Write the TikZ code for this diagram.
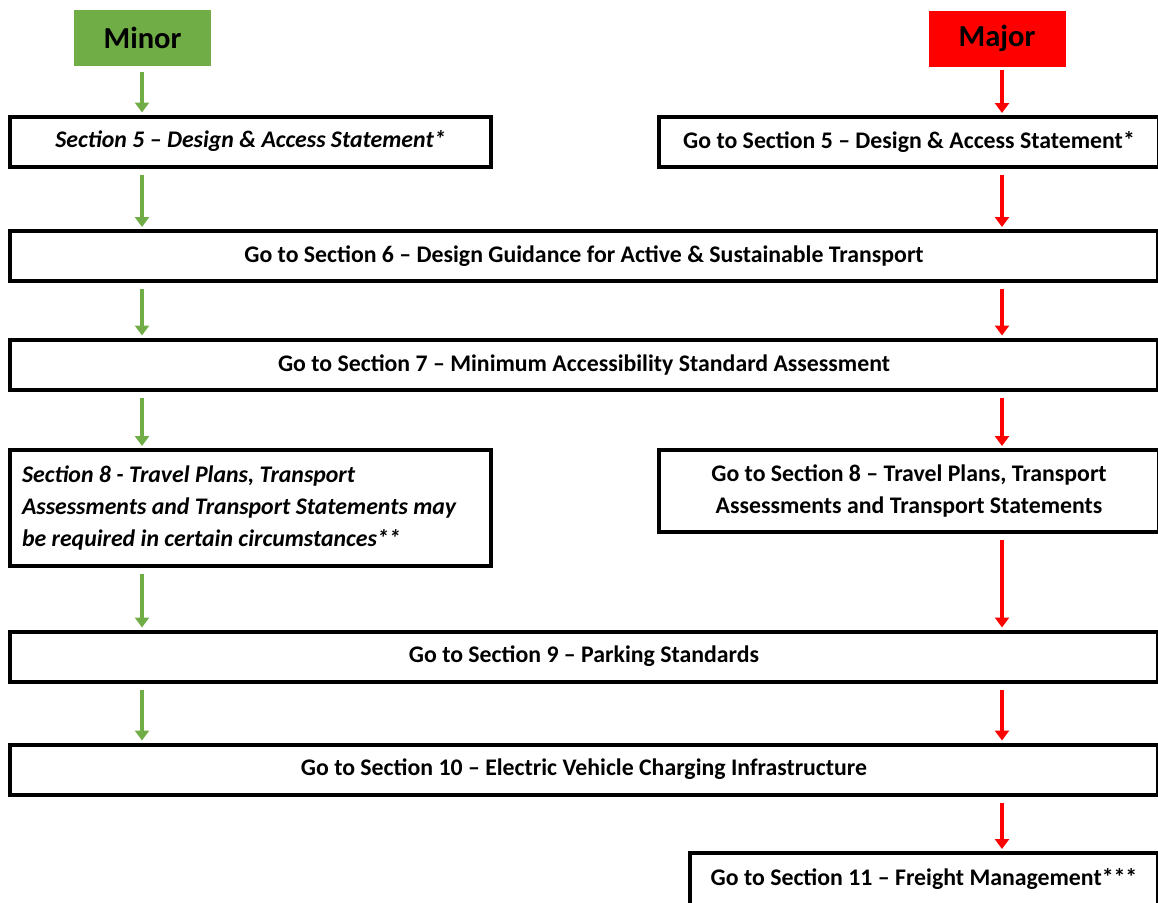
\documentclass[tikz,border=0pt]{standalone}
\usepackage{fontspec}
\setmainfont{Carlito}
\usetikzlibrary{arrows.meta}
\definecolor{minorgreen}{HTML}{70AD47}
\definecolor{majorred}{HTML}{FF0000}
\begin{document}
\begin{tikzpicture}[x=1pt,y=-1pt,>={Triangle[width=14pt,length=10pt]},line join=miter,
  stepbox/.style={draw=black,line width=4pt,fill=white,inner sep=0pt,minimum height=50pt,
    font=\bfseries\fontsize{23.8}{32}\selectfont,align=center},
  headbox/.style={draw=none,inner sep=0pt,minimum width=137pt,minimum height=56pt,
    font=\bfseries\fontsize{30.5}{34}\selectfont},
  go/.style={line width=4pt,->,shorten <=6pt,shorten >=2pt},
  ]
\useasboundingbox (0,0) rectangle (1158,902);
\clip (0,0) rectangle (1158,902);
%%
\coordinate (lane_green) at (142,0);
\coordinate (lane_red) at (1002,0);
\node (box_minor) at (142.5,38) [headbox,fill=minorgreen] {Minor};
\node (box_major) at (997,38.5) [headbox,fill=majorred] {Major};
\node (box_s5l) at (250.5,141.5) [stepbox,minimum width=481pt,font=\bfseries\itshape\fontsize{23.8}{32}\selectfont] {Section 5 -- Design \& Access Statement*};
\node (box_s5r) at (909,142) [stepbox,minimum width=500pt] {Go to Section 5 -- Design \& Access Statement*};
\node (box_s6) at (584,256) [stepbox,minimum width=1148pt] {Go to Section 6 -- Design Guidance for Active \& Sustainable Transport};
\node (box_s7) at (584,364.5) [stepbox,minimum width=1148pt] {Go to Section 7 -- Minimum Accessibility Standard Assessment};
\node (box_s8l) at (250.5,508) [stepbox,minimum width=481pt,minimum height=116pt,text width=457pt,align=left,font=\bfseries\itshape\fontsize{23.8}{32}\selectfont] {\spaceskip=0pt\xspaceskip=0pt\relax Section 8 - Travel Plans, Transport\\Assessments and Transport Statements may\\be required in certain circumstances**};
\node (box_s8r) at (909,491) [stepbox,minimum width=500pt,minimum height=82pt] {Go to Section 8 -- Travel Plans, Transport\\Assessments and Transport Statements};
\node (box_s9) at (584,656.5) [stepbox,minimum width=1148pt] {Go to Section 9 -- Parking Standards};
\node (box_s10) at (584,769.5) [stepbox,minimum width=1148pt] {Go to Section 10 -- Electric Vehicle Charging Infrastructure};
\node (box_s11) at (924,879) [stepbox,minimum width=468pt,minimum height=52pt] {Go to Section 11 -- Freight Management***};
% minor lane
\draw [go,minorgreen] (box_minor.south -| lane_green) -- (box_s5l.north -| lane_green);
\draw [go,minorgreen] (box_s5l.south -| lane_green) -- (box_s6.north -| lane_green);
\draw [go,minorgreen] (box_s6.south -| lane_green) -- (box_s7.north -| lane_green);
\draw [go,minorgreen] (box_s7.south -| lane_green) -- (box_s8l.north -| lane_green);
\draw [go,minorgreen] (box_s8l.south -| lane_green) -- (box_s9.north -| lane_green);
\draw [go,minorgreen] (box_s9.south -| lane_green) -- (box_s10.north -| lane_green);
% major lane
\draw [go,majorred,shorten <=3pt] (box_major.south -| lane_red) -- (box_s5r.north -| lane_red);
\draw [go,majorred] (box_s5r.south -| lane_red) -- (box_s6.north -| lane_red);
\draw [go,majorred] (box_s6.south -| lane_red) -- (box_s7.north -| lane_red);
\draw [go,majorred] (box_s7.south -| lane_red) -- (box_s8r.north -| lane_red);
\draw [go,majorred] (box_s8r.south -| lane_red) -- (box_s9.north -| lane_red);
\draw [go,majorred] (box_s9.south -| lane_red) -- (box_s10.north -| lane_red);
\draw [go,majorred] (box_s10.south -| lane_red) -- (box_s11.north -| lane_red);
%
\end{tikzpicture}
\end{document}
